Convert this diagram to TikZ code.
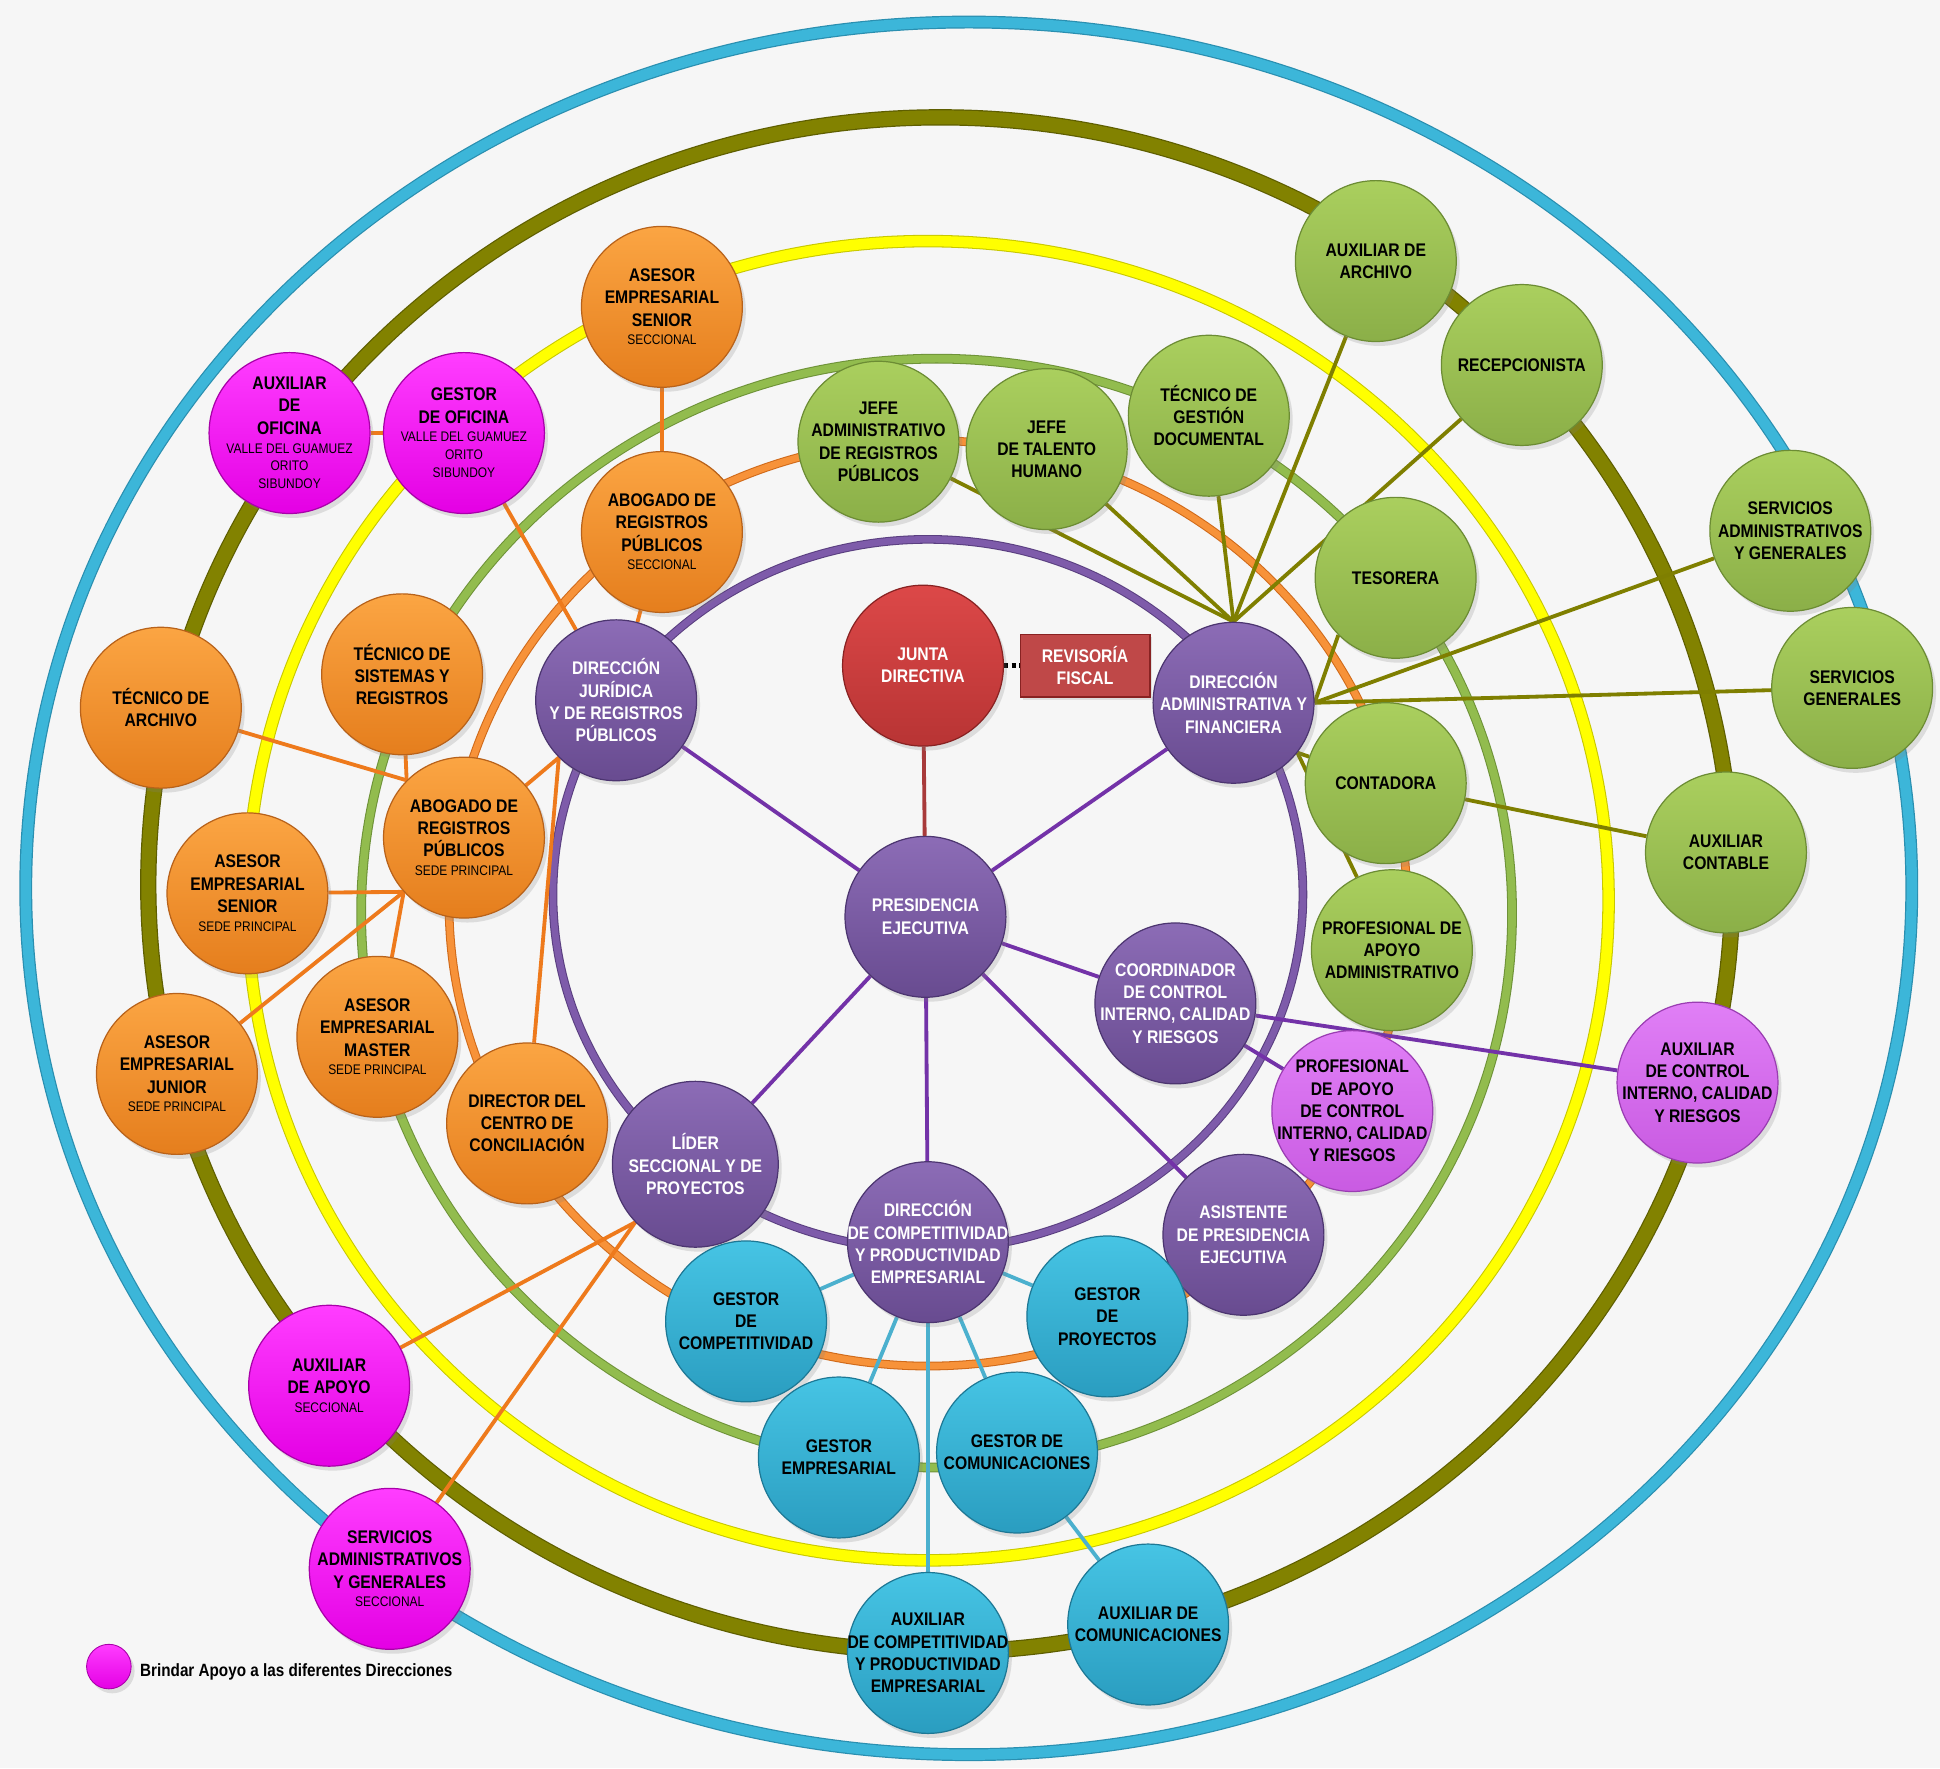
\documentclass[tikz,border=0pt]{standalone}
\usepackage{fontspec}
\setmainfont{Liberation Sans}[FakeStretch=0.86]
\usetikzlibrary{shadows}
\pgfdeclarelayer{bgl}
\pgfdeclarelayer{rings}
\pgfdeclarelayer{edges}
\pgfsetlayers{bgl,rings,edges,main}
\definecolor{BG}{HTML}{F6F6F6}
\definecolor{RBlue}{HTML}{3CB6D9}
\definecolor{RBlueE}{HTML}{2A8FB0}
\definecolor{ROlive}{HTML}{828200}
\definecolor{ROliveE}{HTML}{5E5E00}
\definecolor{RYellow}{HTML}{FFFF00}
\definecolor{RYellowE}{HTML}{C8C800}
\definecolor{RGreen}{HTML}{92BC4E}
\definecolor{RGreenE}{HTML}{6E9238}
\definecolor{ROrange}{HTML}{F79239}
\definecolor{ROrangeE}{HTML}{D06A1A}
\definecolor{RPurple}{HTML}{7E5BAA}
\definecolor{RPurpleE}{HTML}{5A3F80}
\definecolor{OrT}{HTML}{FBA543}
\definecolor{OrB}{HTML}{E57E1D}
\definecolor{OrE}{HTML}{B8621A}
\definecolor{GrT}{HTML}{AACF5E}
\definecolor{GrB}{HTML}{8BAF48}
\definecolor{GrE}{HTML}{6C8C34}
\definecolor{PuT}{HTML}{8C6CB6}
\definecolor{PuB}{HTML}{684B90}
\definecolor{PuE}{HTML}{4C3570}
\definecolor{MgT}{HTML}{FF3DFF}
\definecolor{MgB}{HTML}{E400E4}
\definecolor{MgE}{HTML}{A800A8}
\definecolor{ViT}{HTML}{E07FF6}
\definecolor{ViB}{HTML}{C95BE2}
\definecolor{ViE}{HTML}{9A3DB2}
\definecolor{CyT}{HTML}{46C4E4}
\definecolor{CyB}{HTML}{2A9DC0}
\definecolor{CyE}{HTML}{1D7895}
\definecolor{ReT}{HTML}{DC4848}
\definecolor{ReB}{HTML}{B83434}
\definecolor{ReE}{HTML}{882222}
\definecolor{LPurple}{HTML}{7332A8}
\definecolor{LOlive}{HTML}{7F7F00}
\definecolor{LOrange}{HTML}{EE7A1C}
\definecolor{LCyan}{HTML}{4BB0CE}
\definecolor{LRed}{HTML}{A83A3A}
\newcommand\smtxt[1]{{\fontsize{8}{10}\selectfont\mdseries #1}}
\tikzset{
  ball/.style={circle, minimum size=3.25cm, inner sep=0pt, line width=0.7pt,
    drop shadow={opacity=0.22, shadow xshift=0.07cm, shadow yshift=-0.09cm}},
  orn/.style={ball, top color=OrT, bottom color=OrB, draw=OrE},
  grn/.style={ball, top color=GrT, bottom color=GrB, draw=GrE},
  pur/.style={ball, top color=PuT, bottom color=PuB, draw=PuE},
  mag/.style={ball, top color=MgT, bottom color=MgB, draw=MgE},
  vio/.style={ball, top color=ViT, bottom color=ViB, draw=ViE},
  cya/.style={ball, top color=CyT, bottom color=CyB, draw=CyE},
  red/.style={ball, top color=ReT, bottom color=ReB, draw=ReE},
  lb/.style={font=\fontsize{10.5}{12.8}\selectfont\bfseries, align=center, inner sep=0pt, text=black},
  lbw/.style={lb, text=white},
  pline/.style={draw=LPurple, line width=2.2pt},
  oline/.style={draw=LOlive, line width=2.2pt},
  rline/.style={draw=LOrange, line width=2.2pt},
  cline/.style={draw=LCyan, line width=2.2pt},
}
\begin{document}
\begin{tikzpicture}[x=0.025cm,y=-0.025cm]
\begin{pgfonlayer}{bgl}
\fill[BG] (0,0) rectangle (1568,1429);
\end{pgfonlayer}
\useasboundingbox (0,0) rectangle (1568,1429);

% ---------- rings ----------
\begin{pgfonlayer}{rings}
\draw[RBlueE, line width=7.4pt] (783,718) ellipse [x radius=19.05cm, y radius=17.5cm];
\draw[RBlue, line width=6pt] (783,718) ellipse [x radius=19.05cm, y radius=17.5cm];
\draw[ROliveE, line width=9.4pt] (760,715) ellipse [x radius=16cm, y radius=15.5cm];
\draw[ROlive, line width=8pt] (760,715) ellipse [x radius=16cm, y radius=15.5cm];
\draw[RYellowE, line width=7.2pt] (750,728) ellipse [x radius=13.75cm, y radius=13.325cm];
\draw[RYellow, line width=6pt] (750,728) ellipse [x radius=13.75cm, y radius=13.325cm];
\draw[RGreenE, line width=5.6pt] (757,738) ellipse [x radius=11.625cm, y radius=11.2cm];
\draw[RGreen, line width=4.4pt] (757,738) ellipse [x radius=11.625cm, y radius=11.2cm];
\draw[ROrangeE, line width=5pt] (750,730) ellipse [x radius=9.675cm, y radius=9.35cm];
\draw[ROrange, line width=3.8pt] (750,730) ellipse [x radius=9.675cm, y radius=9.35cm];
\draw[RPurpleE, line width=5pt] (750,723) ellipse [x radius=7.575cm, y radius=7.175cm];
\draw[RPurple, line width=3.8pt] (750,723) ellipse [x radius=7.575cm, y radius=7.175cm];
\end{pgfonlayer}

% ---------- orange nodes ----------
\node[orn, label={[lb]center:{ASESOR\\EMPRESARIAL\\SENIOR\\[-2pt]\smtxt{SECCIONAL}}}] (senS) at (535,248) {};
\node[orn, label={[lb]center:{ABOGADO DE\\REGISTROS\\PÚBLICOS\\[-2pt]\smtxt{SECCIONAL}}}] (aboS) at (535,430) {};
\node[orn, label={[lb]center:{TÉCNICO DE\\SISTEMAS Y\\REGISTROS}}] (tecSis) at (325,545) {};
\node[orn, label={[lb]center:{TÉCNICO DE\\ARCHIVO}}] (tecArch) at (130,572) {};
\node[orn, label={[lb]center:{ABOGADO DE\\REGISTROS\\PÚBLICOS\\[-2pt]\smtxt{SEDE PRINCIPAL}}}] (aboP) at (375,677) {};
\node[orn, label={[lb]center:{ASESOR\\EMPRESARIAL\\SENIOR\\[-2pt]\smtxt{SEDE PRINCIPAL}}}] (senP) at (200,722) {};
\node[orn, label={[lb]center:{ASESOR\\EMPRESARIAL\\MASTER\\[-2pt]\smtxt{SEDE PRINCIPAL}}}] (masP) at (305,838) {};
\node[orn, label={[lb]center:{ASESOR\\EMPRESARIAL\\JUNIOR\\[-2pt]\smtxt{SEDE PRINCIPAL}}}] (junP) at (143,868) {};
\node[orn, label={[lb]center:{DIRECTOR DEL\\CENTRO DE\\CONCILIACIÓN}}] (dirCen) at (426,908) {};

% ---------- magenta nodes ----------
\node[mag, label={[lb]center:{AUXILIAR\\DE\\OFICINA\\[-2pt]\smtxt{VALLE DEL GUAMUEZ}\\[-2.5pt]\smtxt{ORITO}\\[-2.5pt]\smtxt{SIBUNDOY}}}] (auxOfi) at (234,350) {};
\node[mag, label={[lb]center:{GESTOR\\DE OFICINA\\[-2pt]\smtxt{VALLE DEL GUAMUEZ}\\[-2.5pt]\smtxt{ORITO}\\[-2.5pt]\smtxt{SIBUNDOY}}}] (gesOfi) at (375,350) {};
\node[mag, label={[lb]center:{AUXILIAR\\DE APOYO\\[-2pt]\smtxt{SECCIONAL}}}] (auxApo) at (266,1120) {};
\node[mag, label={[lb]center:{SERVICIOS\\ADMINISTRATIVOS\\Y GENERALES\\[-2pt]\smtxt{SECCIONAL}}}] (servS) at (315,1268) {};

% ---------- purple / red nodes ----------
\node[pur, label={[lbw]center:{DIRECCIÓN\\JURÍDICA\\Y DE REGISTROS\\PÚBLICOS}}] (dirJur) at (498,566) {};
\node[red, label={[lbw]center:{JUNTA\\DIRECTIVA}}] (junta) at (746,538) {};
\node[rectangle, minimum width=2.62cm, minimum height=1.27cm, fill=ReB!90!white, draw=ReE, line width=0.8pt,
      drop shadow={opacity=0.2, shadow xshift=0.05cm, shadow yshift=-0.06cm},
      label={[lbw]center:{REVISORÍA\\FISCAL}}] (revFis) at (877,538) {};
\node[pur, label={[lbw]center:{DIRECCIÓN\\ADMINISTRATIVA Y\\FINANCIERA}}] (dirAdm) at (997,568) {};
\node[pur, label={[lbw]center:{PRESIDENCIA\\EJECUTIVA}}] (pres) at (748,741) {};
\node[pur, label={[lbw]center:{COORDINADOR\\DE CONTROL\\INTERNO, CALIDAD\\Y RIESGOS}}] (coord) at (950,811) {};
\node[pur, minimum size=3.35cm, label={[lbw]center:{LÍDER\\SECCIONAL Y DE\\PROYECTOS}}] (lider) at (562,941) {};
\node[pur, label={[lbw]center:{DIRECCIÓN\\DE COMPETITIVIDAD\\Y PRODUCTIVIDAD\\EMPRESARIAL}}] (dirComp) at (750,1004) {};
\node[pur, label={[lbw]center:{ASISTENTE\\DE PRESIDENCIA\\EJECUTIVA}}] (asist) at (1005,998) {};

% ---------- violet nodes ----------
\node[vio, label={[lb]center:{PROFESIONAL\\DE APOYO\\DE CONTROL\\INTERNO, CALIDAD\\Y RIESGOS}}] (profCtrl) at (1093,898) {};
\node[vio, label={[lb]center:{AUXILIAR\\DE CONTROL\\INTERNO, CALIDAD\\Y RIESGOS}}] (auxCtrl) at (1372,875) {};

% ---------- green nodes ----------
\node[grn, label={[lb]center:{AUXILIAR DE\\ARCHIVO}}] (auxArch) at (1112,211) {};
\node[grn, label={[lb]center:{RECEPCIONISTA}}] (recep) at (1230,295) {};
\node[grn, label={[lb]center:{JEFE\\ADMINISTRATIVO\\DE REGISTROS\\PÚBLICOS}}] (jefeAdm) at (710,357) {};
\node[grn, label={[lb]center:{JEFE\\DE TALENTO\\HUMANO}}] (jefeTH) at (846,363) {};
\node[grn, label={[lb]center:{TÉCNICO DE\\GESTIÓN\\DOCUMENTAL}}] (tecGD) at (977,336) {};
\node[grn, label={[lb]center:{TESORERA}}] (teso) at (1128,467) {};
\node[grn, label={[lb]center:{SERVICIOS\\ADMINISTRATIVOS\\Y GENERALES}}] (servAdm) at (1447,429) {};
\node[grn, label={[lb]center:{SERVICIOS\\GENERALES}}] (servGen) at (1497,556) {};
\node[grn, label={[lb]center:{CONTADORA}}] (conta) at (1120,633) {};
\node[grn, label={[lb]center:{AUXILIAR\\CONTABLE}}] (auxCont) at (1395,689) {};
\node[grn, label={[lb]center:{PROFESIONAL DE\\APOYO\\ADMINISTRATIVO}}] (profAdm) at (1125,768) {};

% ---------- cyan nodes ----------
\node[cya, label={[lb]center:{GESTOR\\DE\\COMPETITIVIDAD}}] (gComp) at (603,1068) {};
\node[cya, label={[lb]center:{GESTOR\\DE\\PROYECTOS}}] (gProy) at (895,1064) {};
\node[cya, label={[lb]center:{GESTOR\\EMPRESARIAL}}] (gEmp) at (678,1178) {};
\node[cya, label={[lb]center:{GESTOR DE\\COMUNICACIONES}}] (gCom) at (822,1174) {};
\node[cya, label={[lb]center:{AUXILIAR\\DE COMPETITIVIDAD\\Y PRODUCTIVIDAD\\EMPRESARIAL}}] (auxComp) at (750,1336) {};
\node[cya, label={[lb]center:{AUXILIAR DE\\COMUNICACIONES}}] (auxCom) at (928,1313) {};

% ---------- legend ----------
\node[mag, minimum size=0.9cm, line width=0.5pt] (legDot) at (88,1347) {};
\node[anchor=west, inner sep=0pt, font=\fontsize{10.2}{12}\selectfont\bfseries] (legTxt) at (113,1351) {Brindar Apoyo a las diferentes Direcciones};

% ---------- connectors ----------
\begin{pgfonlayer}{edges}
% purple
\draw[pline] (pres) -- (dirJur);
\draw[pline] (pres) -- (dirAdm);
\draw[pline] (pres) -- (coord);
\draw[pline] (pres) -- (lider);
\draw[pline] (pres) -- (dirComp);
\draw[pline] (pres) -- (asist);
\draw[pline] (coord) -- (auxCtrl);
\draw[pline] (coord) -- (profCtrl);
% red / dotted
\draw[draw=LRed, line width=2.2pt] (junta) -- (pres);
\draw[black, line width=3pt, dash pattern=on 2.2pt off 2.2pt] (junta.east) -- (revFis.west);
% olive
\draw[oline] (dirAdm.north) -- (jefeAdm);
\draw[oline] (dirAdm.north) -- (jefeTH);
\draw[oline] (dirAdm.north) -- (tecGD);
\draw[oline] (dirAdm.north) -- (auxArch);
\draw[oline] (dirAdm.north) -- (recep);
\draw[oline] (dirAdm.east) -- (teso.225);
\draw[oline] (dirAdm.east) -- (servAdm);
\draw[oline] (dirAdm.east) -- (servGen);
\draw[oline] (dirAdm.-38) -- (conta);
\draw[oline] (dirAdm.-38) -- (profAdm);
\draw[oline] (conta) -- (auxCont);
% orange
\draw[rline] (senS) -- (aboS);
\draw[rline] (auxOfi) -- (gesOfi);
\draw[rline] (gesOfi) -- (dirJur);
\draw[rline] (aboS) -- (dirJur);
\draw[rline] (aboP.north west) -- (tecArch);
\draw[rline] (aboP.north west) -- (tecSis);
\draw[rline] (aboP.222) -- (senP);
\draw[rline] (aboP.222) -- (junP);
\draw[rline] (aboP.222) -- (masP);
\draw[rline] (dirJur.225) -- (aboP);
\draw[rline] (dirJur.225) -- (dirCen);
\draw[rline] (lider.224) -- (auxApo);
\draw[rline] (lider.224) -- (servS);
% cyan
\draw[cline] (dirComp) -- (gComp);
\draw[cline] (dirComp) -- (gEmp);
\draw[cline] (dirComp) -- (gCom);
\draw[cline] (dirComp) -- (gProy);
\draw[cline] (dirComp) -- (auxComp);
\draw[cline] (gCom) -- (auxCom);
\end{pgfonlayer}
\end{tikzpicture}
\end{document}
